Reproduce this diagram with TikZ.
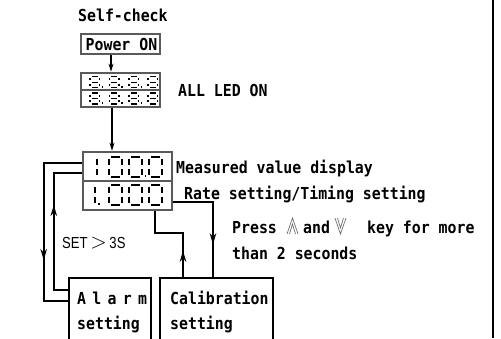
\documentclass[tikz,border=0pt]{standalone}
\usepackage{fontspec}
\usetikzlibrary{arrows.meta,decorations.markings}
\newfontfamily\monof[FakeStretch=0.9]{DejaVu Sans Mono}
\newfontfamily\sansf[FakeStretch=0.82]{Liberation Sans}
\definecolor{boxgrey}{HTML}{5A5A5A}
\definecolor{symgrey}{HTML}{6E6E6E}
% seven-segment digit: #1 x, #2 y (top), #3 width, #4 height, #5 segments
\newcommand\segdigit[5]{%
  \foreach \q in {#5}{%
    \if\q a\draw[seg] (#1+1.8,#2) -- (#1+#3-1.8,#2);\fi
    \if\q b\draw[seg] (#1+#3,#2+1.8) -- (#1+#3,#2+#4/2-1.8);\fi
    \if\q c\draw[seg] (#1+#3,#2+#4/2+1.8) -- (#1+#3,#2+#4-1.8);\fi
    \if\q d\draw[seg] (#1+1.8,#2+#4) -- (#1+#3-1.8,#2+#4);\fi
    \if\q e\draw[seg] (#1,#2+#4/2+1.8) -- (#1,#2+#4-1.8);\fi
    \if\q f\draw[seg] (#1,#2+1.8) -- (#1,#2+#4/2-1.8);\fi
    \if\q g\draw[seg] (#1+1.8,#2+#4/2) -- (#1+#3-1.8,#2+#4/2);\fi
  }}
\newcommand\segdot[2]{\fill (#1-0.9,#2-1.8) rectangle (#1+0.9,#2);}
\begin{document}
\begin{tikzpicture}[x=1pt,y=-1pt,
  mfont/.style={font=\monof\bfseries\fontsize{16.5}{18}\selectfont},
  lbl/.style={mfont, inner sep=0pt, anchor=base west},
  gbox/.style={draw=boxgrey, line width=2.6pt, inner sep=0pt},
  kbox/.style={draw=black, line width=2.4pt, inner sep=0pt},
  conn/.style={line width=1.8pt, draw=black},
  tip/.style={-{Stealth[length=8pt,width=5pt]}},
  midarrow/.style={postaction={decorate}, decoration={markings, mark=at position #1 with {\arrow{Stealth[length=11pt,width=6.5pt]}}}},
  seg/.style={line width=1.4pt, draw=black},
  sym/.style={line width=0.7pt, draw=symgrey},
]
\useasboundingbox (0,0) rectangle (501,338);
\clip (0,0) rectangle (501,338);

% texts
\node[lbl] (selfcheck) at (78,21) {Self-check};
\node[lbl] (allled) at (178,96) {ALL LED ON};
\node[lbl] (measured) at (176,173) {Measured value display};
\node[lbl] (rate) at (184,199) {Rate setting/Timing setting};
\node[lbl] (press) at (232,233) {Press};
\node[lbl] (andw) at (303,233) {and};
\node[lbl] (keyw) at (367,233) {key for more};
\node[lbl] (than) at (232,259) {than 2 seconds};
\node[font=\sansf\fontsize{16}{18}\selectfont, anchor=base west, inner sep=0pt] (setl) at (62,248) {SET\,\scalebox{1.25}{$>$}\,3S};

% boxes
\node[gbox, mfont, minimum width=79pt, minimum height=20pt] (power) at (120.5,44) {\hspace{2pt}Power ON};
\node[gbox, minimum width=79pt, minimum height=34pt] (led) at (120.5,90) {};
\draw[draw=boxgrey, line width=2.6pt] (led.west) -- (led.east);
\node[gbox, minimum width=89pt, minimum height=58pt] (meas) at (127.5,181) {};
\draw[draw=boxgrey, line width=2.6pt] (meas.west) -- (meas.east);
\node[kbox, minimum width=82pt, minimum height=67pt] (alarm) at (110,311.5) {};
\node[kbox, minimum width=113pt, minimum height=67pt] (calib) at (216.5,311.5) {};

\node[lbl] (alarmt) at (77,304) {\makebox[70pt][s]{A\hfill l\hfill a\hfill r\hfill m}};
\node[lbl] (alarms) at (77,329) {setting};
\node[lbl] (calibt) at (170,304) {Calibration};
\node[lbl] (calibs) at (170,329) {setting};

% LED digits 8.8.8.8 (two rows)
\begin{scope}[seg/.style={line width=1.1pt, draw=black}]
\foreach \yy in {76.6,93}{
  \foreach \xx in {90,109.5,129,148}{\segdigit{\xx}{\yy}{9.5}{11}{a,b,c,d,e,f,g}}
  \foreach \xx in {102.5,122,141.5}{\segdot{\xx}{\yy+11}}
}
\end{scope}
% 100.0
\segdigit{97}{157}{0}{20}{b,c}
\segdigit{109}{157}{13}{20}{a,b,c,d,e,f}
\segdigit{129}{157}{13}{20}{a,b,c,d,e,f}
\segdot{145.5}{177}
\segdigit{149}{157}{13}{20}{a,b,c,d,e,f}
% 1.000
\segdigit{95}{185}{0}{20}{b,c}
\segdot{99}{205}
\segdigit{109}{185}{13}{20}{a,b,c,d,e,f}
\segdigit{129}{185}{13}{20}{a,b,c,d,e,f}
\segdigit{149}{185}{13}{20}{a,b,c,d,e,f}

% key symbols (double up / double down)
\draw[sym] (287,234) -- (292.5,218) -- (298,234);
\draw[sym] (289.5,234) -- (292.5,224) -- (295.5,234);
\draw[sym] (335,218) -- (340.5,234) -- (346,218);
\draw[sym] (337.5,218) -- (340.5,228) -- (343.5,218);

% connectors
\draw[conn, tip] ([xshift=-9.5pt]power.south) -- ([xshift=-9.5pt]led.north);
\draw[conn, tip] ([xshift=-8.5pt]led.south) -- ([xshift=-15.5pt]meas.north);
\draw[conn, midarrow=135pt] ([yshift=18pt]meas.west) -- ++(-38,0) |- ([yshift=10.5pt]alarm.west);
\draw[conn, midarrow=99pt] ([yshift=21.5pt]alarm.west) -- ++(-14,0) |- ([yshift=8pt]meas.west);
\draw[conn, midarrow=26pt] ([xshift=-33.5pt]calib.north) -- ++(0,-44) -| ([xshift=27.5pt]meas.south);
\draw[conn, midarrow=82pt] ([yshift=-21pt]meas.east) -| ([xshift=-3.5pt]calib.north);

% right border line
\draw[line width=2pt] (493,0) -- (493,338);
\end{tikzpicture}
\end{document}
